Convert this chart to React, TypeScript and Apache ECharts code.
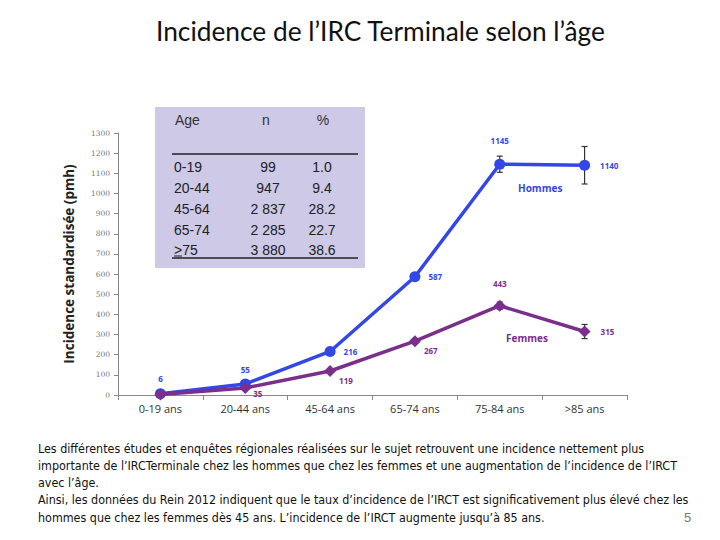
import React, { useEffect, useRef } from "react";
import * as echarts from "echarts";

const categories = ["0-19 ans", "20-44 ans", "45-64 ans", "65-74 ans", "75-84 ans", ">85 ans"];
const hommes = [6, 55, 216, 587, 1145, 1140];
const femmes = [2, 35, 119, 267, 443, 315];
const errHommes = [0, 0, 0, 14, 40, 93];
const errFemmes = [0, 0, 0, 12, 18, 35];
const yTicks = { min: 0, max: 1300, interval: 100 };

const tableHeader = ["Age", "n", "%"];
const tableAge = ["0-19", "20-44", "45-64", "65-74", ">75"];
const tableN = ["99", "947", "2 837", "2 285", "3 880"];
const tablePct = ["1.0", "9.4", "28.2", "22.7", "38.6"];

const paragraph = [
  "Les différentes études et enquêtes régionales réalisées sur le sujet retrouvent une incidence nettement plus",
  "importante de l’IRCTerminale chez les hommes que chez les femmes et une augmentation de l’incidence de l’IRCT",
  "avec l’âge.",
  "Ainsi, les données du Rein 2012 indiquent que le taux d’incidence de l’IRCT est significativement plus élevé chez les",
  "hommes que chez les femmes dès 45 ans. L’incidence de l’IRCT augmente jusqu’à 85 ans.",
];

const BLUE = "#3347e6";
const PURPLE = "#7a2f8c";

const hLabelPos: any[] = [
  { position: "top", distance: 6 },
  { position: "top", distance: 5 },
  { position: "right", distance: 8 },
  { position: "right", distance: 8 },
  { position: "top", distance: 14 },
  { position: "right", distance: 10 },
];
const fLabelPos: any[] = [
  { show: false },
  { position: "right", distance: 2, offset: [0, 6] },
  { position: "right", distance: 3, offset: [0, 9] },
  { position: "right", distance: 3, offset: [0, 9] },
  { position: "top", distance: 12 },
  { position: "right", distance: 10 },
];

export default function App() {
  const ref = useRef<HTMLDivElement>(null);
  useEffect(() => {
    const chart = echarts.init(ref.current!, null, { renderer: "svg" });

    const errSeries = (vals: number[], errs: number[], color: string) => ({
      type: "custom",
      z: 1,
      silent: true,
      data: vals.map((v, i) => [i, v, errs[i]]).filter((d) => d[2] > 0),
      renderItem: (params: any, api: any) => {
        const x = api.value(0);
        const y = api.value(1);
        const e = api.value(2);
        const top = api.coord([x, y + e]);
        const bot = api.coord([x, y - e]);
        const w = 3;
        const st = { stroke: color, lineWidth: 1.2 };
        return {
          type: "group",
          children: [
            { type: "line", shape: { x1: top[0], y1: top[1], x2: bot[0], y2: bot[1] }, style: st },
            { type: "line", shape: { x1: top[0] - w, y1: top[1], x2: top[0] + w, y2: top[1] }, style: st },
            { type: "line", shape: { x1: bot[0] - w, y1: bot[1], x2: bot[0] + w, y2: bot[1] }, style: st },
          ],
        };
      },
    });

    const tbl: any[] = [];
    const tx = [175, 266, 323];
    const cols = [tableAge, tableN, tablePct];
    tableHeader.forEach((h, c) => {
      tbl.push({
        type: "text",
        x: tx[c],
        y: 113,
        style: { text: h, font: "14px 'Liberation Sans', Arial, sans-serif", fill: "#333", align: c === 0 ? "left" : "center" },
      });
    });
    const rowY = [160, 181, 202, 223, 243];
    for (let r = 0; r < 5; r++) {
      for (let c = 0; c < 3; c++) {
        tbl.push({
          type: "text",
          x: c === 0 ? 174 : c === 1 ? 268 : 322,
          y: rowY[r],
          style: {
            text: cols[c][r],
            font: "14px 'Liberation Sans', Arial, sans-serif",
            fill: "#222",
            align: c === 0 ? "left" : "center",
          },
        });
      }
    }

    chart.setOption({
      animation: false,
      backgroundColor: "#ffffff",
      title: {
        text: "Incidence de l’IRC Terminale selon l’âge",
        left: 151,
        top: 13,
        textStyle: { fontFamily: "Lato, 'Open Sans', sans-serif", fontSize: 26.3, fontWeight: "normal", color: "#111" },
      },
      grid: { left: 118, right: 93, top: 133, bottom: 145 },
      xAxis: {
        type: "category",
        data: categories,
        boundaryGap: true,
        axisLine: { lineStyle: { color: "#888" } },
        axisTick: { show: true, length: 5, lineStyle: { color: "#888" } },
        axisLabel: { color: "#333", fontSize: 11, fontFamily: "'Open Sans', sans-serif", margin: 8 },
      },
      yAxis: {
        type: "value",
        min: yTicks.min,
        max: yTicks.max,
        interval: yTicks.interval,
        name: "Incidence standardisée (pmh)",
        nameLocation: "middle",
        nameGap: 42,
        nameRotate: 90,
        nameTextStyle: { fontSize: 13.5, fontWeight: "bold", color: "#222", fontFamily: "'Open Sans', sans-serif" },
        axisLine: { show: true, lineStyle: { color: "#888" } },
        axisTick: { show: true, length: 4, lineStyle: { color: "#888" } },
        axisLabel: {
          color: "#777",
          fontSize: 7.5,
          fontFamily: "'DejaVu Serif', serif",
          margin: 8,
          formatter: (v: number) => String(v),
        },
        splitLine: { show: false },
      },
      series: [
        errSeries(hommes, errHommes, "#333"),
        errSeries(femmes, errFemmes, "#333"),
        {
          type: "line",
          name: "Hommes",
          z: 3,
          data: hommes.map((v, i) => ({ value: v, label: hLabelPos[i] })),
          symbol: "circle",
          symbolSize: 11,
          lineStyle: { width: 3.5, color: BLUE },
          itemStyle: { color: BLUE },
          label: { show: true, color: BLUE, fontSize: 8, fontWeight: "bold", fontFamily: "'Open Sans', sans-serif" },
        },
        {
          type: "line",
          name: "Femmes",
          z: 4,
          data: femmes.map((v, i) => ({ value: v, label: fLabelPos[i] })),
          symbol: "diamond",
          symbolSize: 12,
          lineStyle: { width: 3.5, color: PURPLE },
          itemStyle: { color: PURPLE },
          label: { show: true, color: PURPLE, fontSize: 8, fontWeight: "bold", fontFamily: "'Open Sans', sans-serif" },
        },
      ],
      graphic: [
        { type: "rect", shape: { x: 155, y: 107, width: 210, height: 161 }, style: { fill: "#cdc9e7" }, z: 0 },
        ...tbl,
        { type: "line", shape: { x1: 172, y1: 154, x2: 358, y2: 154 }, style: { stroke: "#222", lineWidth: 1.3 } },
        { type: "line", shape: { x1: 172, y1: 258, x2: 358, y2: 258 }, style: { stroke: "#222", lineWidth: 1.3 } },
        { type: "line", shape: { x1: 174, y1: 256, x2: 182, y2: 256 }, style: { stroke: "#222", lineWidth: 1 } },
        {
          type: "text",
          x: 518,
          y: 183,
          style: { text: "Hommes", fill: BLUE, font: "bold 10px 'Open Sans', sans-serif" },
        },
        {
          type: "text",
          x: 506,
          y: 333,
          style: { text: "Femmes", fill: PURPLE, font: "bold 10px 'Open Sans', sans-serif" },
        },
        ...paragraph.map((t, i) => ({
          type: "text",
          x: 38,
          y: 442 + i * 17.3,
          style: { text: t, fill: "#111", font: "12.4px 'Liberation Sans Narrow', 'DejaVu Sans Condensed', sans-serif" },
        })),
        {
          type: "text",
          x: 684,
          y: 511,
          style: { text: "5", fill: "#777", font: "13px sans-serif" },
        },
      ],
    });
    return () => chart.dispose();
  }, []);
  return <div ref={ref} style={{ position: "fixed", left: 0, top: 0, width: 720, height: 540 }} />;
}
